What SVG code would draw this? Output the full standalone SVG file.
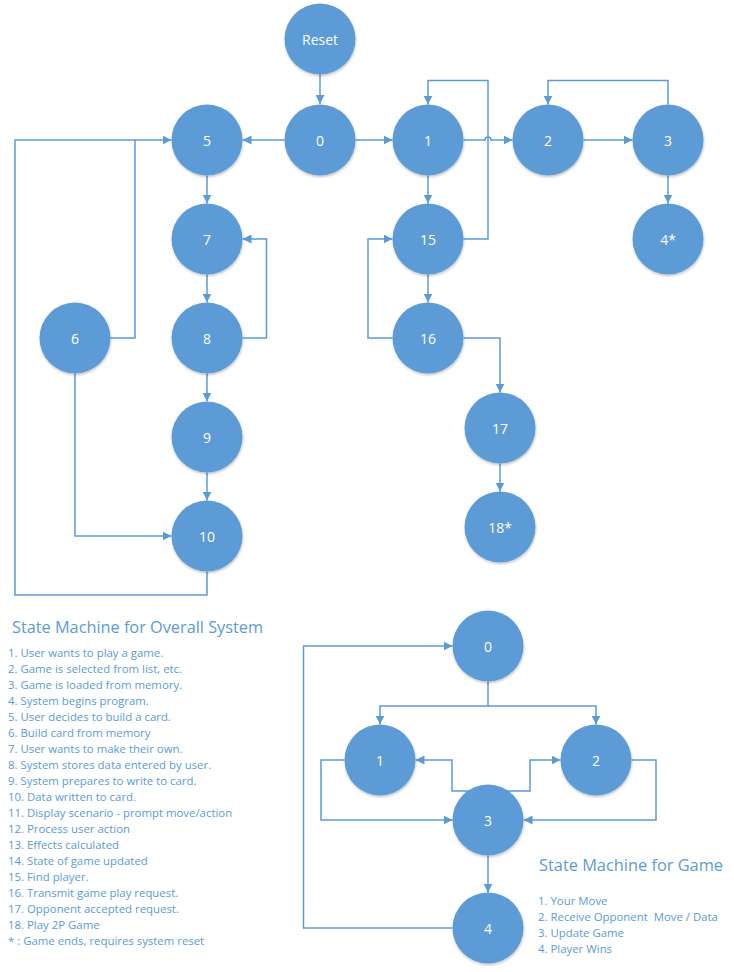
<svg xmlns="http://www.w3.org/2000/svg" width="734" height="972" viewBox="0 0 734 972">
<style>
.n circle{fill:#5B9BD5;filter:url(#sh)}
.n text{fill:#fff;font-family:"Open Sans","Noto Sans",sans-serif;font-size:14px;text-anchor:middle;dominant-baseline:central}
.c path{fill:none;stroke:#5B9BD5;stroke-width:1.5}
.a{marker-end:url(#ar)}
.t{fill:#5B9BD5;font-family:"Open Sans","Noto Sans",sans-serif}
.h{font-size:17px}
.l{font-size:11.4px}
</style>
<defs>
<marker id="ar" viewBox="0 0 10 10" refX="10" refY="5" markerWidth="9" markerHeight="9" markerUnits="userSpaceOnUse" orient="auto"><path d="M0,0 L10,5 L0,10 z" fill="#5B9BD5"/></marker>
<filter id="sh" x="-20%" y="-20%" width="140%" height="140%"><feDropShadow dx="0.5" dy="1.5" stdDeviation="1.2" flood-color="#000" flood-opacity="0.25"/></filter>
</defs>
<rect width="734" height="972" fill="#fff"/>
<g id="connectors" class="c">
<path class="a" d="M320,74 V104"/>
<path class="a" d="M284.5,140 H242.5"/>
<path class="a" d="M355.5,140 H392.5"/>
<path class="a" d="M463.5,140 H485 a3,3 0 0 1 6,0 H512.5"/>
<path class="a" d="M583.5,140 H632.5"/>
<path class="a" d="M668,104.5 V80.5 H548 V104.5"/>
<path class="a" d="M668,175.5 V203.5"/>
<path class="a" d="M428,175.5 V203.5"/>
<path class="a" d="M463.5,239 H488 V80.5 H428 V104.5"/>
<path class="a" d="M428,274.5 V302.5"/>
<path class="a" d="M392.5,338 H368 V239 H392.5"/>
<path class="a" d="M463.5,338 H500 V392.5"/>
<path class="a" d="M500,463.5 V491.5"/>
<path class="a" d="M207,175.5 V203.5"/>
<path class="a" d="M207,274.5 V302.5"/>
<path class="a" d="M242.5,338 H266.5 V239 H242.5"/>
<path class="a" d="M207,373.5 V401.5"/>
<path class="a" d="M207,472.5 V500.5"/>
<path class="a" d="M110.5,338 H135 V140 H171.5"/>
<path class="a" d="M75,373.5 V536 H171.5"/>
<path d="M207,571.5 V595 H15 V140 H135"/>
<path class="a" d="M488,681.5 V706 H380 V724.5"/>
<path class="a" d="M488,706 H596 V724.5"/>
<path class="a" d="M488,791 H452 V760 H415.5"/>
<path class="a" d="M488,791 H530 V760 H560.5"/>
<path class="a" d="M344.5,760 H321 V820 H452.5"/>
<path class="a" d="M631.5,760 H656 V820 H523.5"/>
<path class="a" d="M488,855.5 V892.5"/>
<path class="a" d="M452.5,928 H303.5 V646 H452.5"/>
</g>
<g id="node-reset" class="n"><circle cx="320" cy="39" r="35.5"/><text x="320" y="39">Reset</text></g>
<g id="node-0" class="n"><circle cx="320" cy="140" r="35.5"/><text x="320" y="140">0</text></g>
<g id="node-5" class="n"><circle cx="207" cy="140" r="35.5"/><text x="207" y="140">5</text></g>
<g id="node-1" class="n"><circle cx="428" cy="140" r="35.5"/><text x="428" y="140">1</text></g>
<g id="node-2" class="n"><circle cx="548" cy="140" r="35.5"/><text x="548" y="140">2</text></g>
<g id="node-3" class="n"><circle cx="668" cy="140" r="35.5"/><text x="668" y="140">3</text></g>
<g id="node-4s" class="n"><circle cx="668" cy="239" r="35.5"/><text x="668" y="239">4*</text></g>
<g id="node-15" class="n"><circle cx="428" cy="239" r="35.5"/><text x="428" y="239">15</text></g>
<g id="node-16" class="n"><circle cx="428" cy="338" r="35.5"/><text x="428" y="338">16</text></g>
<g id="node-17" class="n"><circle cx="500" cy="428" r="35.5"/><text x="500" y="428">17</text></g>
<g id="node-18s" class="n"><circle cx="500" cy="527" r="35.5"/><text x="500" y="527">18*</text></g>
<g id="node-7" class="n"><circle cx="207" cy="239" r="35.5"/><text x="207" y="239">7</text></g>
<g id="node-8" class="n"><circle cx="207" cy="338" r="35.5"/><text x="207" y="338">8</text></g>
<g id="node-9" class="n"><circle cx="207" cy="437" r="35.5"/><text x="207" y="437">9</text></g>
<g id="node-10" class="n"><circle cx="207" cy="536" r="35.5"/><text x="207" y="536">10</text></g>
<g id="node-6" class="n"><circle cx="75" cy="338" r="35.5"/><text x="75" y="338">6</text></g>
<g id="game-0" class="n"><circle cx="488" cy="646" r="35.5"/><text x="488" y="646">0</text></g>
<g id="game-1" class="n"><circle cx="380" cy="760" r="35.5"/><text x="380" y="760">1</text></g>
<g id="game-2" class="n"><circle cx="596" cy="760" r="35.5"/><text x="596" y="760">2</text></g>
<g id="game-3" class="n"><circle cx="488" cy="820" r="35.5"/><text x="488" y="820">3</text></g>
<g id="game-4" class="n"><circle cx="488" cy="928" r="35.5"/><text x="488" y="928">4</text></g>
<g id="legend-system" class="t">
<text class="h" x="12" y="633" textLength="251" lengthAdjust="spacingAndGlyphs">State Machine for Overall System</text>
<g class="l">
<text x="8" y="656.5">1. User wants to play a game.</text>
<text x="8" y="672.5">2. Game is selected from list, etc.</text>
<text x="8" y="688.5">3. Game is loaded from memory.</text>
<text x="8" y="704.5">4. System begins program.</text>
<text x="8" y="720.5">5. User decides to build a card.</text>
<text x="8" y="736.5">6. Build card from memory</text>
<text x="8" y="752.5">7. User wants to make their own.</text>
<text x="8" y="768.5">8. System stores data entered by user.</text>
<text x="8" y="784.5">9. System prepares to write to card.</text>
<text x="8" y="800.5">10. Data written to card.</text>
<text x="8" y="816.5">11. Display scenario - prompt move/action</text>
<text x="8" y="832.5">12. Process user action</text>
<text x="8" y="848.5">13. Effects calculated</text>
<text x="8" y="864.5">14. State of game updated</text>
<text x="8" y="880.5">15. Find player.</text>
<text x="8" y="896.5">16. Transmit game play request.</text>
<text x="8" y="912.5">17. Opponent accepted request.</text>
<text x="8" y="928.5">18. Play 2P Game</text>
<text x="8" y="944.5">* : Game ends, requires system reset</text>
</g>
</g>
<g id="legend-game" class="t">
<text class="h" x="539" y="871" textLength="184" lengthAdjust="spacingAndGlyphs">State Machine for Game</text>
<g class="l">
<text x="538" y="905">1. Your Move</text>
<text x="538" y="921" xml:space="preserve">2. Receive Opponent  Move / Data</text>
<text x="538" y="937">3. Update Game</text>
<text x="538" y="953">4. Player Wins</text>
</g>
</g>
</svg>
